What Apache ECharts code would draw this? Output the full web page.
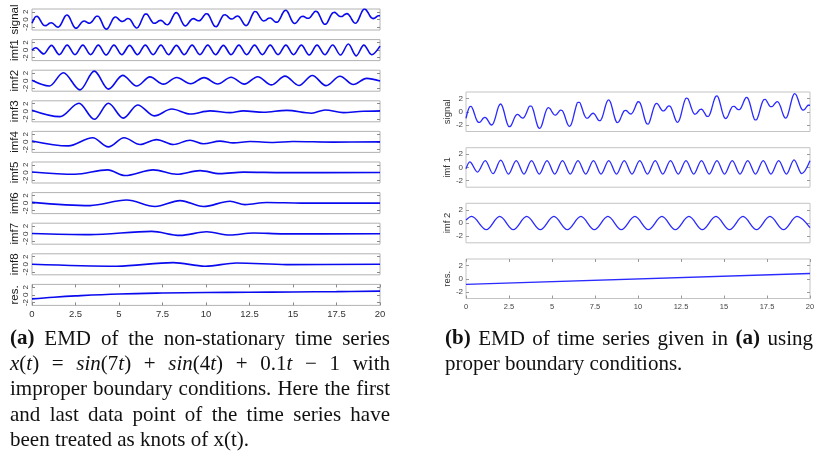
<!DOCTYPE html>
<html>
<head>
<meta charset="utf-8">
<script src="https://cdn.jsdelivr.net/npm/echarts@6/dist/echarts.min.js"></script>
<style>
  html, body { margin: 0; padding: 0; background: #fff; }
  #c { width: 830px; height: 453px; }
</style>
</head>
<body>
<div id="c"></div>
<script>
// ---- data -------------------------------------------------------------
const xTickLabels = ['0', '2.5', '5', '7.5', '10', '12.5', '15', '17.5', '20'];
const yTickValues = [-2, 0, 2];

// sampled time series, one value every 0.1 time units from t = 0 to t = 20
const signalStep = 0.1;
const signal = [
  -1.00, 0.04, 0.72, 0.83, 0.37, -0.39, -1.14, -1.58, -1.61, -1.34,
  -1.00, -0.85, -1.02, -1.43, -1.86, -2.01, -1.70, -0.95, 0.01, 0.83,
  1.18, 0.91, 0.11, -0.93, -1.82, -2.27, -2.17, -1.66, -1.02, -0.54,
  -0.40, -0.57, -0.85, -0.97, -0.77, -0.25, 0.39, 0.85, 0.86, 0.33,
  -0.62, -1.64, -2.37, -2.53, -2.09, -1.22, -0.27, 0.42, 0.64, 0.43,
  -0.02, -0.40, -0.51, -0.32, 0.02, 0.26, 0.16, -0.35, -1.12, -1.85,
  -2.22, -2.02, -1.26, -0.19, 0.82, 1.41, 1.41, 0.89, 0.10, -0.61,
  -0.98, -0.95, -0.65, -0.33, -0.23, -0.45, -0.88, -1.28, -1.36, -0.98,
  -0.17, 0.79, 1.55, 1.81, 1.44, 0.57, -0.47, -1.31, -1.66, -1.48,
  -0.92, -0.29, 0.14, 0.22, 0.01, -0.26, -0.34, -0.08, 0.49, 1.12,
  1.52, 1.44, 0.82, -0.17, -1.17, -1.81, -1.87, -1.33, -0.42, 0.50,
  1.12, 1.26, 0.99, 0.54, 0.19, 0.13, 0.36, 0.71, 0.90, 0.73,
  0.17, -0.62, -1.32, -1.60, -1.30, -0.46, 0.63, 1.58, 2.08, 1.98,
  1.39, 0.60, -0.07, -0.38, -0.28, 0.04, 0.34, 0.38, 0.11, -0.33,
  -0.69, -0.70, -0.24, 0.62, 1.57, 2.27, 2.42, 1.95, 1.02, -0.01,
  -0.78, -1.04, -0.78, -0.19, 0.43, 0.80, 0.83, 0.59, 0.34, 0.31,
  0.63, 1.22, 1.84, 2.17, 2.00, 1.30, 0.29, -0.68, -1.24, -1.19,
  -0.57, 0.37, 1.26, 1.80, 1.87, 1.55, 1.09, 0.78, 0.78, 1.04,
  1.38, 1.53, 1.29, 0.67, -0.13, -0.78, -0.97, -0.56, 0.34, 1.44,
  2.34, 2.74, 2.54, 1.89, 1.09, 0.48, 0.24, 0.39, 0.73, 0.99, 0.99
];

// modes listed by their turning points [t, value]
const imf1A = [[0,0.0],[0.22,0.6],[0.67,-1.0],[1.12,1.25],[1.57,-1.2],[2.02,1.3],[2.47,-1.2],[2.92,1.3],
  [3.37,-1.2],[3.81,1.3],[4.26,-1.25],[4.71,1.3],[5.16,-1.2],[5.61,1.25],[6.06,-1.2],[6.51,1.3],[6.96,-1.2],
  [7.41,1.3],[7.85,-1.2],[8.30,1.25],[8.75,-1.2],[9.20,1.3],[9.65,-1.2],[10.10,1.3],[10.55,-1.2],[11.00,1.25],
  [11.44,-1.2],[11.89,1.3],[12.34,-1.2],[12.79,1.3],[13.24,-1.2],[13.69,1.3],[14.14,-1.2],[14.59,1.3],
  [15.03,-1.2],[15.48,1.3],[15.93,-1.25],[16.38,1.3],[16.83,-1.2],[17.28,1.35],[17.73,-1.3],[18.18,1.6],
  [18.63,-1.5],[19.07,1.3],[19.52,-1.2],[20,1.05]];
const imf2A = [[0,0.1],[1.0,-1.4],[1.8,2.1],[2.76,-2.4],[3.58,2.5],[4.39,-2.2],[5.21,1.4],[6.02,-1.4],
  [6.78,1.0],[7.55,-0.9],[8.31,0.85],[9.12,-0.8],[9.89,0.8],[10.67,-0.85],[11.44,0.9],[12.2,-0.9],[12.97,1.05],
  [13.77,-1.1],[14.54,1.2],[15.34,-1.25],[16.11,1.35],[16.9,-1.3],[17.7,1.15],[18.47,-1.0],[19.23,0.6],[20,-0.1]];
const imf3A = [[0,0.3],[1.61,-1.4],[2.70,2.1],[3.58,-2.1],[4.39,2.1],[5.25,-1.8],[6.07,1.65],[7.03,-1.2],
  [8.03,0.6],[9.08,-0.7],[10.23,0.1],[11.38,-0.35],[12.15,0.1],[13.3,-0.25],[14.64,0.25],[16.07,-0.5],
  [16.84,0.35],[17.9,-0.35],[19.04,0.0],[20,0.1]];
const imf4A = [[0,0.25],[2.09,-1.05],[3.49,1.1],[4.39,-1.3],[5.29,1.1],[6.21,-0.7],[7.16,0.6],[8.12,-0.7],
  [9.08,0.45],[9.85,-0.5],[10.8,0.2],[11.57,-0.25],[12.53,0.1],[13.87,-0.15],[15.0,0.1],[17.3,-0.05],[20,0]];
const imf5A = [[0,0.15],[2.47,-0.45],[4.35,0.7],[5.34,-0.8],[6.97,0.7],[8.31,-0.45],[9.66,0.5],[10.8,-0.3],
  [12.15,0.1],[14.5,-0.03],[20,0]];
const imf6A = [[0,0.2],[3.33,-0.65],[5.44,0.8],[7.07,-0.9],[8.51,0.65],[9.85,-0.9],[11.38,0.5],[12.24,-0.4],
  [13.49,0.15],[15.5,0],[20,0]];
const imf7A = [[0,0.05],[3.33,-0.25],[6.88,0.6],[8.51,-0.45],[10.04,0.5],[11.38,-0.35],[12.72,0.2],[14.44,-0.05],[20,0]];
const imf8A = [[0,0],[4.87,-0.5],[8.12,0.45],[9.94,-0.5],[11.76,0.35],[14.64,-0.08],[20,0]];
const resA = [[0,-1.05],[1.25,-0.6],[2.5,-0.25],[5,0.25],[7.5,0.5],[10,0.62],[12.5,0.7],[15,0.77],[17.5,0.86],[20,0.98]];

const imf1B = [[0,-0.2],[0.22,0.85],[0.67,-0.7],[1.12,1.05],[1.57,-0.95],[2.02,1.1],[2.47,-1.0],[2.92,1.05],
  [3.37,-1.0],[3.81,1.05],[4.26,-1.0],[4.71,1.05],[5.16,-1.0],[5.61,1.05],[6.06,-1.0],[6.51,1.05],[6.96,-1.0],
  [7.41,1.05],[7.85,-1.0],[8.30,1.05],[8.75,-1.0],[9.20,1.05],[9.65,-1.0],[10.10,1.05],[10.55,-1.0],[11.00,1.05],
  [11.44,-1.0],[11.89,1.05],[12.34,-1.0],[12.79,1.05],[13.24,-1.0],[13.69,1.05],[14.14,-1.0],[14.59,1.05],
  [15.03,-1.0],[15.48,1.05],[15.93,-1.0],[16.38,1.05],[16.83,-1.0],[17.28,1.05],[17.73,-1.0],[18.18,1.05],
  [18.63,-1.0],[19.07,1.15],[19.52,-0.95],[20,1.0]];
const imf2B = [[0,0.45],[0.33,1.0],[1.18,-1.0],[1.96,1.0],[2.75,-1.0],[3.53,1.0],[4.32,-1.0],[5.11,1.0],
  [5.89,-1.0],[6.68,1.0],[7.46,-1.0],[8.25,1.0],[9.03,-1.0],[9.82,1.0],[10.60,-1.0],[11.39,1.0],[12.17,-1.0],
  [12.96,1.0],[13.74,-1.0],[14.53,1.0],[15.32,-1.0],[16.10,1.0],[16.89,-1.0],[17.67,1.0],[18.46,-1.0],
  [19.24,1.0],[20,-0.7]];
const resB = [[0,-0.85],[20,0.8]];

const namesA = ['signal', 'imf1', 'imf2', 'imf3', 'imf4', 'imf5', 'imf6', 'imf7', 'imf8', 'res.'];
const namesB = ['signal', 'imf 1', 'imf 2', 'res.'];

const captionA = [
  '{b|(a)} EMD of the non-stationary time series',
  '{i|x}({i|t}) = {i|sin}(7{i|t}) + {i|sin}(4{i|t}) + 0.1{i|t} \u2212 1 with',
  'improper boundary conditions. Here the first',
  'and last data point of the time series have',
  'been treated as knots of x(t).'
];
const captionB = [
  '{b|(b)} EMD of time series given in {b|(a)} using',
  'proper boundary conditions.'
];

// ---- layout -----------------------------------------------------------
const SANS = '"Liberation Sans", Arial, Helvetica, sans-serif';
const SERIF = '"Liberation Serif", "Times New Roman", Times, serif';

const signalPts = signal.map((v, k) => [+(k * signalStep).toFixed(1), v]);

const panelA = {
  left: 32, width: 348, top0: 9, step: 30.6, height: 21, yMax: 2.75,
  border: '#b2b2b2', tickColor: '#8a8a8a', labelColor: '#333', nameColor: '#1a1a1a',
  yRotate: 90, yFont: 8, yMargin: 2, nameFont: 11.5, nameGap: 10,
  xFont: 9.5, xMargin: 4, lineColor: '#0a0aee', lineWidth: 1.6
};
const panelB = {
  left: 466, width: 344, tops: [92, 147.7, 203.3, 259], height: 39.5, yMax: 3,
  border: '#c4c4c4', tickColor: '#9a9a9a', labelColor: '#444', nameColor: '#333',
  yRotate: 0, yFont: 8, yMargin: 3, nameFont: 9.5, nameGap: 6,
  xFont: 7.5, xMargin: 4, lineColor: '#2a2aff', lineWidth: 1.3
};

const rowsA = [
  [signalPts, 'dense'], [imf1A, 'turn'], [imf2A, 'turn'], [imf3A, 'turn'], [imf4A, 'turn'],
  [imf5A, 'turn'], [imf6A, 'turn'], [imf7A, 'turn'], [imf8A, 'turn'], [resA, 'trend']
];
const rowsB = [[signalPts, 'dense'], [imf1B, 'turn'], [imf2B, 'turn'], [resB, 'line']];

const grids = [], xAxes = [], yAxes = [], series = [];

function lineOpts(kind) {
  if (kind === 'turn') return { smooth: 0.34, smoothMonotone: 'x' };
  if (kind === 'dense') return { smooth: 0.3 };
  if (kind === 'trend') return { smooth: 0.4 };
  return { smooth: false };
}

function addRow(p, top, name, data, kind, isLast) {
  const g = grids.length;
  grids.push({
    left: p.left, top: top, width: p.width, height: p.height,
    show: true, borderColor: p.border, borderWidth: 1, backgroundColor: 'transparent'
  });
  const tick = { lineStyle: { color: p.tickColor, width: 1 } };
  const hiddenLine = { show: false, onZero: false };
  const xi = xAxes.length;
  xAxes.push({
    gridIndex: g, type: 'value', min: 0, max: 20, interval: 2.5, position: 'bottom',
    axisLine: hiddenLine, splitLine: { show: false },
    axisTick: Object.assign({ show: isLast, inside: true, length: 3 }, tick),
    axisLabel: {
      show: isLast, fontSize: p.xFont, color: p.labelColor, margin: p.xMargin, fontFamily: SANS,
      formatter: (v, i) => (xTickLabels[i] !== undefined ? xTickLabels[i] : String(v))
    }
  });
  if (isLast) {
    xAxes.push({
      gridIndex: g, type: 'value', min: 0, max: 20, interval: 2.5, position: 'top',
      axisLine: hiddenLine, splitLine: { show: false },
      axisTick: Object.assign({ show: true, inside: true, length: 3 }, tick),
      axisLabel: { show: false }
    });
  }
  const yi = yAxes.length;
  yAxes.push({
    gridIndex: g, type: 'value', min: -p.yMax, max: p.yMax, position: 'left',
    axisLine: hiddenLine, splitLine: { show: false },
    axisTick: Object.assign({ show: true, inside: true, length: 3, customValues: yTickValues }, tick),
    axisLabel: {
      show: true, customValues: yTickValues, rotate: p.yRotate, fontSize: p.yFont,
      color: p.labelColor, margin: p.yMargin, fontFamily: SANS
    },
    name: name, nameLocation: 'middle', nameGap: p.nameGap, nameRotate: 90,
    nameTextStyle: { fontSize: p.nameFont, color: p.nameColor, fontFamily: SANS }
  });
  yAxes.push({
    gridIndex: g, type: 'value', min: -p.yMax, max: p.yMax, position: 'right',
    axisLine: hiddenLine, splitLine: { show: false },
    axisTick: Object.assign({ show: true, inside: true, length: 3, customValues: yTickValues }, tick),
    axisLabel: { show: false }
  });
  series.push(Object.assign({
    type: 'line', xAxisIndex: xi, yAxisIndex: yi, data: data, symbol: 'none', showSymbol: false,
    lineStyle: { color: p.lineColor, width: p.lineWidth }, silent: true, animation: false, clip: true
  }, lineOpts(kind)));
}

rowsA.forEach((r, i) => addRow(panelA, panelA.top0 + panelA.step * i, namesA[i], r[0], r[1], i === rowsA.length - 1));
rowsB.forEach((r, i) => addRow(panelB, panelB.tops[i], namesB[i], r[0], r[1], i === rowsB.length - 1));

// ---- captions (justified word by word) ----------------------------------
const capSize = 21;
const capFonts = {
  n: capSize + 'px ' + SERIF,
  b: 'bold ' + capSize + 'px ' + SERIF,
  i: 'italic ' + capSize + 'px ' + SERIF
};
const capRich = {
  n: { fontSize: capSize, fontFamily: SERIF, fill: '#111' },
  b: { fontSize: capSize, fontFamily: SERIF, fontWeight: 'bold', fill: '#111' },
  i: { fontSize: capSize, fontFamily: SERIF, fontStyle: 'italic', fill: '#111' }
};
const measure = document.createElement('canvas').getContext('2d');

function parseToken(tok) {
  const segs = [];
  const re = /\{([nbi])\|([^}]*)\}|([^{]+)/g;
  let m;
  while ((m = re.exec(tok))) {
    if (m[1]) segs.push({ s: m[1], t: m[2] });
    else segs.push({ s: 'n', t: m[3] });
  }
  return segs;
}
function segsWidth(segs) {
  return segs.reduce((w, sg) => { measure.font = capFonts[sg.s]; return w + measure.measureText(sg.t).width; }, 0);
}

const graphics = [];
function layoutCaption(lines, x0, x1, baseline0, lead) {
  measure.font = capFonts.n;
  const space = measure.measureText(' ').width;
  lines.forEach((line, li) => {
    const toks = line.split(' ').map(parseToken);
    const widths = toks.map(segsWidth);
    const total = widths.reduce((a, b) => a + b, 0);
    const justify = li < lines.length - 1 && toks.length > 1;
    const gap = justify ? (x1 - x0 - total) / (toks.length - 1) : space;
    let x = x0;
    const y = baseline0 + lead * li;
    toks.forEach((segs, ti) => {
      graphics.push({
        type: 'text', x: x, y: y, silent: true,
        style: {
          text: segs.map(sg => '{' + sg.s + '|' + sg.t + '}').join(''),
          rich: capRich, fill: '#111', font: capFonts.n,
          align: 'left', verticalAlign: 'middle'
        }
      });
      x += widths[ti] + gap;
    });
  });
}
layoutCaption(captionA, 10, 390, 339, 25.4);
layoutCaption(captionB, 445, 813, 339, 25.4);

// ---- chart --------------------------------------------------------------
const chart = echarts.init(document.getElementById('c'), null, { renderer: 'canvas', width: 830, height: 453 });
chart.setOption({
  animation: false,
  backgroundColor: '#fff',
  grid: grids,
  xAxis: xAxes,
  yAxis: yAxes,
  series: series,
  graphic: graphics
});
</script>
</body>
</html>
